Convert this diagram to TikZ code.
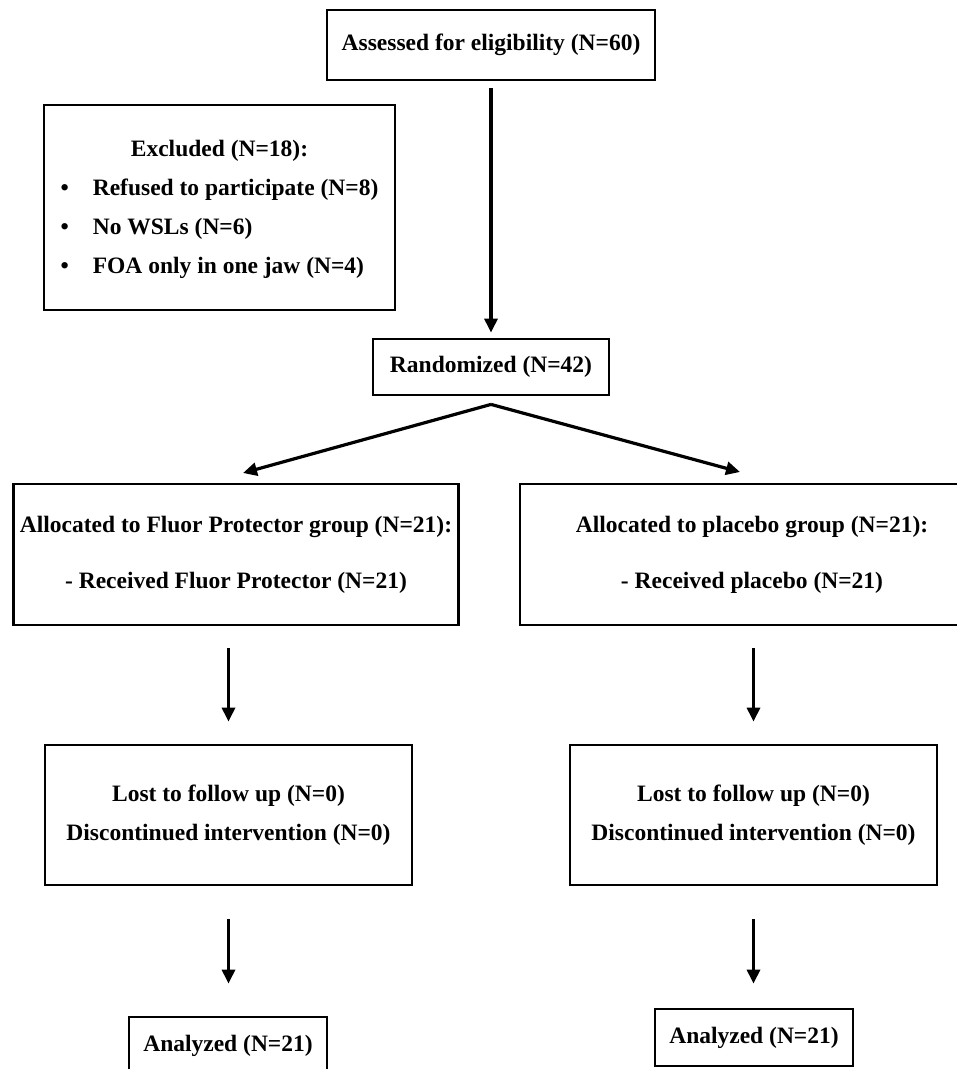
\documentclass[tikz,border=0pt]{standalone}
\usepackage{fontspec}
\setmainfont{Liberation Serif}
\usetikzlibrary{arrows.meta,calc}
\tikzset{
  box/.style={draw, line width=2.8pt, align=center, inner sep=0pt},
  flow/.style={-{Triangle[length=14pt,width=13pt]}, line width=3.2pt}
}
\begin{document}
\begin{tikzpicture}[x=1pt, y=-1pt, font=\fontsize{23.5}{39}\selectfont\bfseries, line join=miter]
  \clip (0,0) rectangle (957,1069);
  % screening
  \node[box, minimum width=328pt, minimum height=70pt] (assess) at (491,45) {Assessed for eligibility (N=60)};
  \node[box, minimum width=351pt, minimum height=205pt] (excl) at (219.5,207.5)
    {\begin{tabular}{@{}l@{\hspace{24pt}}l@{}}
      \multicolumn{2}{c}{Excluded (N=18):}\\
      \textbullet & Refused to participate (N=8)\\
      \textbullet & No WSLs (N=6)\\
      \textbullet & FOA only in one jaw (N=4)
    \end{tabular}};
  \node[box, minimum width=236pt, minimum height=56pt] (rand) at (491,367) {Randomized (N=42)};
  % allocation
  \node[box, minimum width=445pt, minimum height=141pt] (allocL) at (236,554.5) {Allocated to Fluor Protector group (N=21):\\[17pt] - Received Fluor Protector (N=21)};
  \node[box, minimum width=464pt, minimum height=141pt] (allocR) at (752,554.5) {Allocated to placebo group (N=21):\\[17pt] - Received placebo (N=21)};
  % follow up
  \node[box, minimum width=367pt, minimum height=140pt] (lostL) at (228.5,815) {Lost to follow up (N=0)\\ Discontinued intervention (N=0)};
  \node[box, minimum width=367pt, minimum height=140pt] (lostR) at (753.5,815) {Lost to follow up (N=0)\\ Discontinued intervention (N=0)};
  % analysis
  \node[box, minimum width=198pt, minimum height=58pt] (anaL) at (228,1046) {Analyzed (N=21)};
  \node[box, minimum width=198pt, minimum height=57pt] (anaR) at (754,1037.5) {Analyzed (N=21)};
  % connectors
  \coordinate (split) at ($(rand.south)+(0,8)$);
  \coordinate (tipL) at (243,473);
  \coordinate (tipR) at (740,472);
  \draw[flow, shorten <=7pt, shorten >=5pt] (assess.south) -- (rand.north);
  \draw[flow] (split) -- (tipL);
  \draw[flow] (split) -- (tipR);
  \draw[flow, shorten <=22pt, shorten >=22pt] (allocL.south -| lostL) -- (lostL.north);
  \draw[flow, shorten <=22pt, shorten >=22pt] (allocR.south -| lostR) -- (lostR.north);
  \draw[flow, shorten <=33pt, shorten >=32pt] (lostL.south) -- (lostL.south |- anaL.north);
  \draw[flow, shorten <=33pt, shorten >=24pt] (lostR.south) -- (lostR.south |- anaR.north);
\end{tikzpicture}
\end{document}
